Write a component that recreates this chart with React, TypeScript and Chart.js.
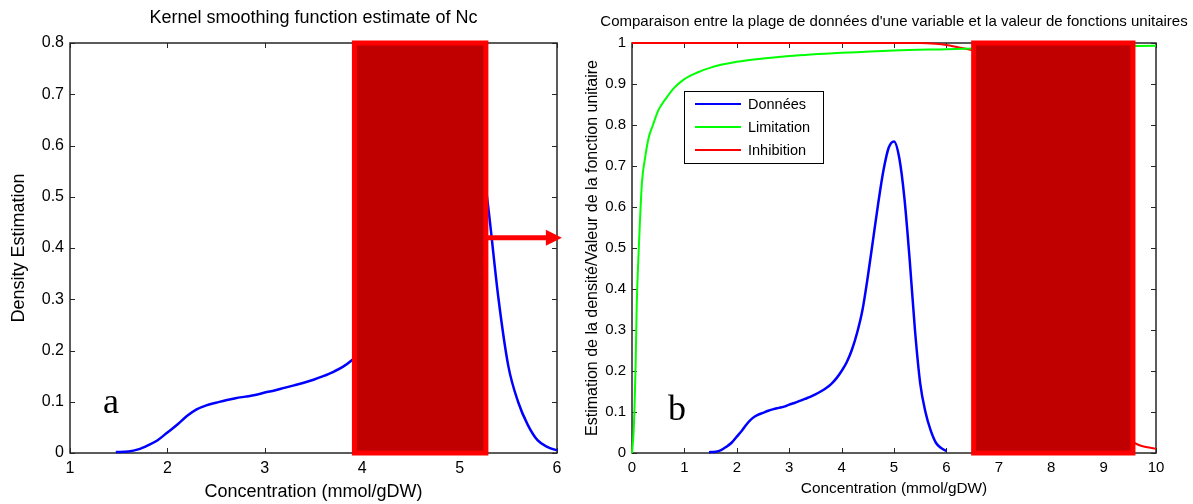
import React, { useEffect, useRef } from "react";
import { Chart, registerables } from "chart.js";

Chart.register(...registerables);

// Kernel density of Nc (same curve in both panels)
const DENSITY_X = [1.47, 1.6, 1.7, 1.8, 1.9, 2.0, 2.1, 2.2, 2.3, 2.4, 2.5, 2.6, 2.7, 2.8, 2.9, 3.0, 3.1, 3.2, 3.3, 3.4, 3.5, 3.6, 3.7, 3.8, 3.9, 4.0, 4.1, 4.2, 4.3, 4.4, 4.5, 4.6, 4.7, 4.8, 4.9, 5.0, 5.1, 5.2, 5.3, 5.4, 5.5, 5.6, 5.7, 5.8, 5.9, 6.0];
const DENSITY_Y = [0.002, 0.003, 0.007, 0.015, 0.025, 0.04, 0.055, 0.072, 0.085, 0.093, 0.098, 0.103, 0.107, 0.11, 0.113, 0.118, 0.122, 0.127, 0.132, 0.137, 0.143, 0.15, 0.158, 0.168, 0.182, 0.2, 0.222, 0.253, 0.295, 0.35, 0.43, 0.52, 0.61, 0.69, 0.745, 0.76, 0.72, 0.62, 0.47, 0.3, 0.17, 0.1, 0.055, 0.025, 0.012, 0.005];

// Limitation function
const LIMIT_X = [0, 0.03, 0.05, 0.07, 0.09, 0.12, 0.15, 0.19, 0.25, 0.32, 0.4, 0.5, 0.65, 0.8, 1.0, 1.25, 1.5, 2, 2.5, 3, 4, 5, 6, 7, 8, 9, 10];
const LIMIT_Y = [0, 0.05, 0.12, 0.22, 0.36, 0.47, 0.56, 0.66, 0.72, 0.77, 0.8, 0.835, 0.865, 0.89, 0.912, 0.928, 0.94, 0.954, 0.962, 0.968, 0.976, 0.982, 0.985, 0.988, 0.99, 0.992, 0.993];

// Inhibition function
const INHIB_X = [0, 1, 2, 3, 4, 5, 5.5, 5.8, 6.0, 6.2, 6.5, 7, 7.5, 8, 8.5, 9, 9.6, 10];
const INHIB_Y = [1, 1, 1, 1, 1, 1, 1, 0.998, 0.995, 0.99, 0.982, 0.95, 0.85, 0.6, 0.3, 0.1, 0.024, 0.01];

const LEFT_X_TICKS = [1, 2, 3, 4, 5, 6];
const LEFT_Y_TICKS = [0, 0.1, 0.2, 0.3, 0.4, 0.5, 0.6, 0.7, 0.8];
const RIGHT_X_TICKS = [0, 1, 2, 3, 4, 5, 6, 7, 8, 9, 10];
const RIGHT_Y_TICKS = [0, 0.1, 0.2, 0.3, 0.4, 0.5, 0.6, 0.7, 0.8, 0.9, 1];

const LEFT_BOX = [3.92, 5.27];
const RIGHT_BOX = [6.52, 9.56];
const ARROW_Y = 0.42;
const ARROW_FROM = 5.27;
const ARROW_TO = 6.05;

const LEFT_TITLE = "Kernel smoothing function estimate of Nc";
const RIGHT_TITLE = "Comparaison entre la plage de données d'une variable et la valeur de fonctions unitaires";
const LEGEND_LABELS = ["Données", "Limitation", "Inhibition"];
const LEGEND_COLORS = ["#0000FF", "#00FF00", "#FF0000"];

const SANS = "'Liberation Sans', Arial, sans-serif";
const SERIF = "'Liberation Serif', 'Times New Roman', serif";

function pts(xs: number[], ys: number[]) {
  return xs.map((x, i) => ({ x, y: ys[i] }));
}

type Cfg = {
  width: number;
  height: number;
  area: { left: number; top: number; right: number; bottom: number };
  xMin: number; xMax: number; yMin: number; yMax: number;
  xTicks: number[]; yTicks: number[];
  tickFont: number; titleFont: number; xTitleFont: number; yTitleFont: number;
  xTitle: string; yTitle: string; title: string; titleOffset: number;
  yTitlePad: number; xTitlePad: number;
  box: number[];
  letter: string; letterDx: number; letterDy: number;
  arrow: boolean; legend: boolean;
  datasets: any[];
};

function makeOverlay(cfg: Cfg) {
  return {
    id: "overlay",
    beforeDatasetsDraw(chart: any) {
      const { ctx, chartArea, scales } = chart;
      const { left, right, top, bottom } = chartArea;
      const xs = scales.x, ys = scales.y;
      ctx.save();
      ctx.strokeStyle = "#262626";
      ctx.lineWidth = 1.5;
      ctx.strokeRect(left, top, right - left, bottom - top);
      ctx.lineWidth = 1;
      const tl = 5;
      ctx.beginPath();
      cfg.xTicks.forEach((v) => {
        const px = Math.round(xs.getPixelForValue(v)) + 0.5;
        ctx.moveTo(px, bottom); ctx.lineTo(px, bottom - tl);
        ctx.moveTo(px, top); ctx.lineTo(px, top + tl);
      });
      cfg.yTicks.forEach((v) => {
        const py = Math.round(ys.getPixelForValue(v)) + 0.5;
        ctx.moveTo(left, py); ctx.lineTo(left + tl, py);
        ctx.moveTo(right, py); ctx.lineTo(right - tl, py);
      });
      ctx.stroke();
      ctx.restore();
    },
    afterDatasetsDraw(chart: any) {
      const { ctx, chartArea, scales } = chart;
      const { left, right, top, bottom } = chartArea;
      const xs = scales.x, ys = scales.y;
      ctx.save();
      // title
      ctx.fillStyle = "#000";
      ctx.font = `${cfg.titleFont}px ${SANS}`;
      ctx.textAlign = "center";
      ctx.textBaseline = "middle";
      ctx.fillText(cfg.title, (left + right) / 2, top - cfg.titleOffset);

      // letter
      ctx.font = `36px ${SERIF}`;
      ctx.textAlign = "left";
      ctx.textBaseline = "alphabetic";
      ctx.fillText(cfg.letter, left + cfg.letterDx, bottom - cfg.letterDy);

      // legend
      if (cfg.legend) {
        const lx = left + 52, ly = top + 48, lw = 139, lh = 72;
        ctx.fillStyle = "#fff";
        ctx.fillRect(lx, ly, lw, lh);
        ctx.strokeStyle = "#000";
        ctx.lineWidth = 1;
        ctx.strokeRect(lx + 0.5, ly + 0.5, lw, lh);
        ctx.font = `14.5px ${SANS}`;
        ctx.textBaseline = "middle";
        LEGEND_LABELS.forEach((lab, i) => {
          const yy = ly + 13 + i * 23;
          ctx.strokeStyle = LEGEND_COLORS[i];
          ctx.lineWidth = 2;
          ctx.beginPath();
          ctx.moveTo(lx + 11, yy); ctx.lineTo(lx + 57, yy);
          ctx.stroke();
          ctx.fillStyle = "#000";
          ctx.fillText(lab, lx + 64, yy + 1);
        });
      }

      // red box
      const bx1 = xs.getPixelForValue(cfg.box[0]);
      const bx2 = xs.getPixelForValue(cfg.box[1]);
      const by1 = ys.getPixelForValue(cfg.yMax);
      const by2 = ys.getPixelForValue(cfg.yMin);
      ctx.fillStyle = "#C00000";
      ctx.fillRect(bx1, by1, bx2 - bx1, by2 - by1);
      ctx.strokeStyle = "#FF0000";
      ctx.lineWidth = 5;
      ctx.strokeRect(bx1, by1, bx2 - bx1, by2 - by1);

      // arrow
      if (cfg.arrow) {
        const ay = ys.getPixelForValue(ARROW_Y);
        const ax1 = xs.getPixelForValue(ARROW_FROM);
        const ax2 = xs.getPixelForValue(ARROW_TO);
        const head = 16;
        ctx.strokeStyle = "#FF0000";
        ctx.fillStyle = "#FF0000";
        ctx.lineWidth = 5;
        ctx.beginPath();
        ctx.moveTo(ax1, ay); ctx.lineTo(ax2 - head + 2, ay);
        ctx.stroke();
        ctx.beginPath();
        ctx.moveTo(ax2, ay);
        ctx.lineTo(ax2 - head, ay - 8);
        ctx.lineTo(ax2 - head, ay + 8);
        ctx.closePath();
        ctx.fill();
      }
      ctx.restore();
    },
  };
}

const fmt = (v: any) => `${Math.round(Number(v) * 10) / 10}`;

function ChartPanel({ cfg, x }: { cfg: Cfg; x: number }) {
  const ref = useRef<HTMLCanvasElement | null>(null);
  useEffect(() => {
    if (!ref.current) return;
    const a = cfg.area;
    const chart = new Chart(ref.current, {
      type: "line",
      data: { datasets: cfg.datasets },
      options: {
        responsive: false,
        maintainAspectRatio: false,
        animation: false,
        devicePixelRatio: 1,
        layout: { padding: { left: 0, top: a.top, right: cfg.width - a.right, bottom: 0 } },
        elements: { point: { radius: 0 } },
        plugins: { legend: { display: false }, tooltip: { enabled: false }, title: { display: false } },
        scales: {
          x: {
            type: "linear",
            min: cfg.xMin,
            max: cfg.xMax,
            afterBuildTicks: (s: any) => { s.ticks = cfg.xTicks.map((v) => ({ value: v })); },
            afterFit: (s: any) => { s.height = cfg.height - a.bottom; s.paddingLeft = 0; s.paddingRight = 0; },
            grid: { display: false, drawTicks: false },
            border: { display: false },
            ticks: { padding: 6, color: "#000", font: { family: SANS, size: cfg.tickFont }, maxRotation: 0, autoSkip: false, callback: fmt },
            title: { display: true, text: cfg.xTitle, color: "#000", font: { family: SANS, size: cfg.xTitleFont }, padding: { top: 0, bottom: cfg.xTitlePad } },
          },
          y: {
            type: "linear",
            min: cfg.yMin,
            max: cfg.yMax,
            afterBuildTicks: (s: any) => { s.ticks = cfg.yTicks.map((v) => ({ value: v })); },
            afterFit: (s: any) => { s.width = a.left; s.paddingTop = 0; s.paddingBottom = 0; },
            grid: { display: false, drawTicks: false },
            border: { display: false },
            ticks: { padding: 6, color: "#000", font: { family: SANS, size: cfg.tickFont }, autoSkip: false, callback: fmt },
            title: { display: true, text: cfg.yTitle, color: "#000", font: { family: SANS, size: cfg.yTitleFont }, padding: { top: cfg.yTitlePad, bottom: 0 } },
          },
        },
      },
      plugins: [makeOverlay(cfg)],
    } as any);
    return () => chart.destroy();
  }, []);
  return (
    <canvas
      ref={ref}
      width={cfg.width}
      height={cfg.height}
      style={{ position: "absolute", left: x, top: 0, width: cfg.width, height: cfg.height }}
    />
  );
}

const lineDs = (label: string, xs: number[], ys: number[], color: string, w: number) => ({
  label,
  data: pts(xs, ys),
  borderColor: color,
  backgroundColor: color,
  borderWidth: w,
  pointRadius: 0,
  fill: false,
  clip: 6,
  cubicInterpolationMode: "monotone",
});

const leftCfg: Cfg = {
  width: 580, height: 504,
  area: { left: 70, top: 43, right: 557, bottom: 453 },
  xMin: 1, xMax: 6, yMin: 0, yMax: 0.8,
  xTicks: LEFT_X_TICKS, yTicks: LEFT_Y_TICKS,
  tickFont: 16, titleFont: 18, xTitleFont: 18, yTitleFont: 18,
  xTitle: "Concentration (mmol/gDW)", yTitle: "Density Estimation",
  title: LEFT_TITLE, titleOffset: 25,
  yTitlePad: 8, xTitlePad: 1,
  box: LEFT_BOX,
  letter: "a", letterDx: 33, letterDy: 40,
  arrow: true, legend: false,
  datasets: [lineDs("Nc", DENSITY_X, DENSITY_Y, "#0000FF", 2.5)],
};

const rightCfg: Cfg = {
  width: 613, height: 504,
  area: { left: 52, top: 43, right: 576, bottom: 453 },
  xMin: 0, xMax: 10, yMin: 0, yMax: 1,
  xTicks: RIGHT_X_TICKS, yTicks: RIGHT_Y_TICKS,
  tickFont: 15, titleFont: 15, xTitleFont: 15.4, yTitleFont: 16,
  xTitle: "Concentration (mmol/gDW)", yTitle: "Estimation de la densité/Valeur de la fonction unitaire",
  title: RIGHT_TITLE, titleOffset: 21,
  yTitlePad: 3, xTitlePad: 6,
  box: RIGHT_BOX,
  letter: "b", letterDx: 36, letterDy: 33,
  arrow: false, legend: true,
  datasets: [
    lineDs("Données", DENSITY_X, DENSITY_Y, "#0000FF", 2.5),
    lineDs("Limitation", LIMIT_X, LIMIT_Y, "#00FF00", 2),
    lineDs("Inhibition", INHIB_X, INHIB_Y, "#FF0000", 2),
  ],
};

export default function App() {
  return (
    <div style={{ position: "fixed", left: 0, top: 0, width: 1193, height: 504, background: "#fff" }}>
      <ChartPanel cfg={leftCfg} x={0} />
      <ChartPanel cfg={rightCfg} x={580} />
    </div>
  );
}
